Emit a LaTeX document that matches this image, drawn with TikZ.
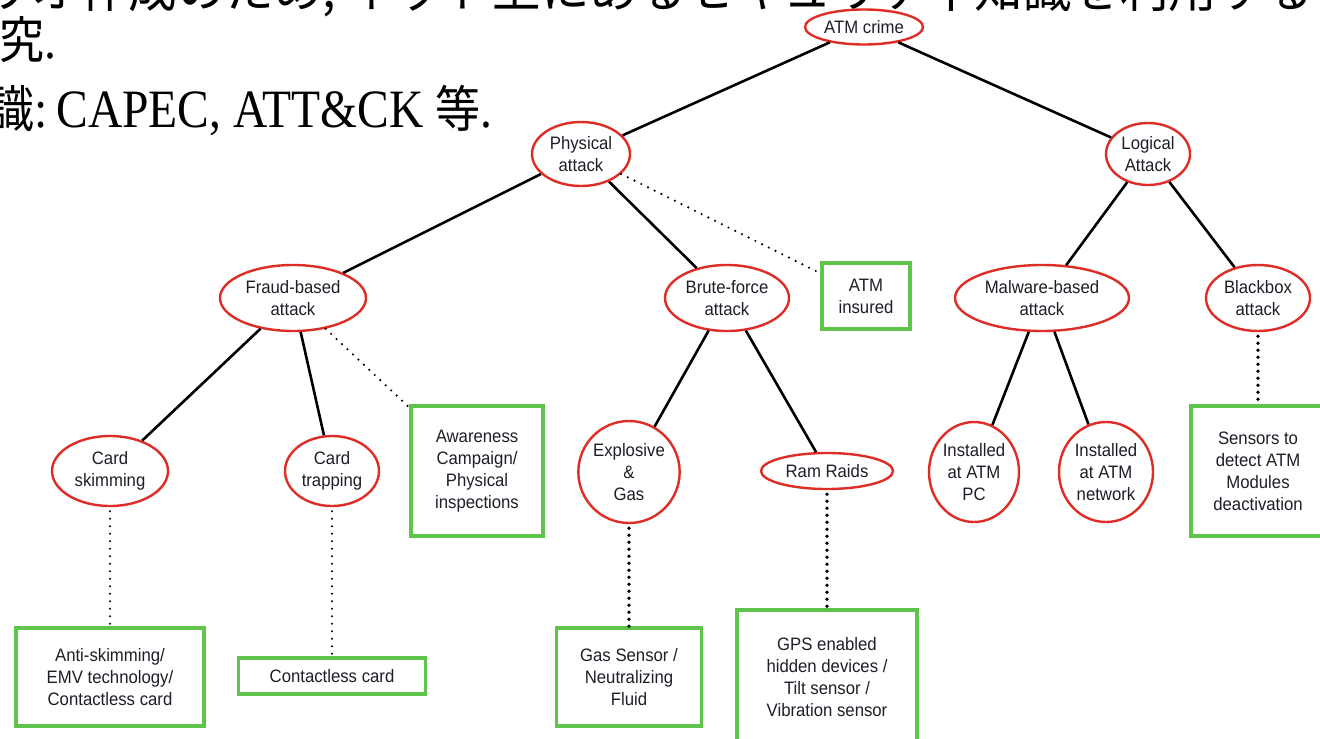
\documentclass[tikz,border=0pt]{standalone}
\usepackage{fontspec}
\usetikzlibrary{shapes.geometric}
\setmainfont{Liberation Sans}
\newfontfamily\diagfont{Liberation Sans}[FakeStretch=0.93]
\newfontfamily\jpfont{Noto Sans CJK JP}[FakeStretch=0.97]
\newfontfamily\jpnarrow{Noto Sans CJK JP}[FakeStretch=0.9]
\newfontfamily\tmfont{Liberation Serif}[FakeStretch=0.88]
\definecolor{ered}{RGB}{222,45,38}
\definecolor{bgreen}{RGB}{94,196,74}
\definecolor{txt}{RGB}{30,30,40}
\begin{document}
\begin{tikzpicture}[x=1bp,y=-1bp,
  attack/.style={ellipse, draw=ered, line width=2.4bp, inner sep=0pt, align=center,
    font=\diagfont\fontsize{18bp}{22bp}\selectfont, text=txt},
  defense/.style={rectangle, draw=bgreen, line width=3.4bp, inner sep=0pt, align=center,
    font=\diagfont\fontsize{18bp}{22bp}\selectfont, text=txt},
  link/.style={line width=2.6bp, black},
  thindots/.style={line width=2.4bp, line cap=round, dash pattern=on 0pt off 7.5bp, black},
  thickdots/.style={line width=3.8bp, line cap=round, dash pattern=on 0pt off 7bp, black},
  slide/.style={anchor=base west, inner sep=0pt, text=black},
  jp/.style={font=\jpfont\fontsize{50bp}{60bp}\selectfont},
  jpn/.style={font=\jpnarrow\fontsize{50bp}{60bp}\selectfont}
]
\useasboundingbox (0,0) rectangle (1320,738);
\fill[white] (0,0) rectangle (1320,738);

% slide text (cropped)
\node[slide, jp] (l1) at (-211,8) {攻撃シナリオ作成のため, ネット上にあるセキュリティ知識を利用する};
\node[slide, jpn] (l2) at (-46,59) {研究{\tmfont\fontsize{54bp}{60bp}\selectfont .}};
\node[slide, jpn] (l3) at (-56,127) {知識{\tmfont\fontsize{54bp}{60bp}\selectfont :\hspace{9bp}CAPEC, ATT\&CK }等{\tmfont\fontsize{54bp}{60bp}\selectfont .}};

% attack nodes
\node[attack, minimum width=118bp, minimum height=35bp] (crime) at (864,27) {ATM crime};
\node[attack, minimum width=98bp, minimum height=64bp] (phys) at (581,154) {Physical\\attack};
\node[attack, minimum width=84bp, minimum height=62bp] (logi) at (1148,154) {Logical\\Attack};
\node[attack, minimum width=146bp, minimum height=66bp] (fraud) at (293,298) {Fraud-based\\attack};
\node[attack, minimum width=124bp, minimum height=66bp] (brute) at (727,298) {Brute-force\\attack};
\node[attack, minimum width=174bp, minimum height=66bp] (malw) at (1042,298) {Malware-based\\attack};
\node[attack, minimum width=104bp, minimum height=66bp] (bbox) at (1258,298) {Blackbox\\attack};
\node[attack, minimum width=116bp, minimum height=70bp] (skim) at (110,471) {Card\\skimming};
\node[attack, minimum width=94bp, minimum height=70bp] (trap) at (332,471) {Card\\trapping};
\node[attack, minimum width=100bp, minimum height=102bp] (expl) at (629,472) {Explosive\\\&\\Gas};
\node[attack, minimum width=132bp, minimum height=36bp] (ram) at (827,471) {Ram Raids};
\node[attack, minimum width=90bp, minimum height=100bp] (inpc) at (974,472) {Installed\\at ATM\\PC};
\node[attack, minimum width=94bp, minimum height=100bp] (innet) at (1106,472) {Installed\\at ATM\\network};

% defense boxes
\node[defense, minimum width=88bp, minimum height=66bp] (insured) at (866,296) {ATM\\insured};
\node[defense, minimum width=132bp, minimum height=130bp] (aware) at (477,471) {Awareness\\Campaign/\\Physical\\inspections};
\node[defense, minimum width=134bp, minimum height=130bp] (sens) at (1258,471) {Sensors to\\detect ATM\\Modules\\deactivation};
\node[defense, minimum width=188bp, minimum height=98bp] (anti) at (110,677) {Anti-skimming/\\EMV technology/\\Contactless card};
\node[defense, minimum width=187bp, minimum height=36bp] (contact) at (332,676) {Contactless card};
\node[defense, minimum width=145bp, minimum height=98bp] (gas) at (629,677) {Gas Sensor /\\Neutralizing\\Fluid};
\node[defense, minimum width=180bp, minimum height=134bp] (gps) at (827,677) {GPS enabled\\hidden devices /\\Tilt sensor /\\Vibration sensor};

% solid edges
\draw[link] (crime) -- (phys);
\draw[link] (crime) -- (logi);
\draw[link] (phys) -- (fraud);
\draw[link] (phys) -- (brute);
\draw[link] (logi) -- (malw);
\draw[link] (logi) -- (bbox);
\draw[link] (fraud) -- (skim);
\draw[link] (fraud) -- (trap);
\draw[link] (brute) -- (expl);
\draw[link] (brute) -- (ram);
\draw[link] (malw) -- (inpc);
\draw[link] (malw) -- (innet);

% dotted links to countermeasures
\draw[thindots] (phys) -- (insured);
\draw[thindots] (fraud) -- (aware);
\draw[thindots] ([yshift=-4bp]skim.south) -- (anti.north);
\draw[thindots] ([yshift=-4bp]trap.south) -- (contact.north);
\draw[thickdots] ([yshift=-4bp]expl.south) -- (gas.north);
\draw[thickdots] ([yshift=-4bp]ram.south) -- (gps.north);
\draw[thickdots] ([yshift=-4bp]bbox.south) -- (sens.north);
\end{tikzpicture}
\end{document}
